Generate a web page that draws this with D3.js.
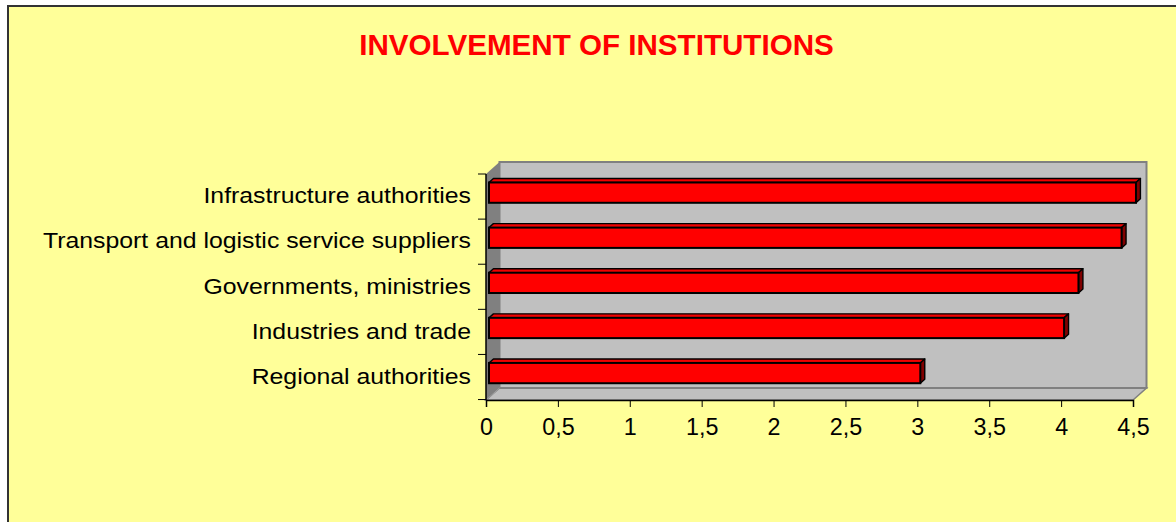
<!DOCTYPE html>
<html>
<head>
<meta charset="utf-8">
<script src="https://cdn.jsdelivr.net/npm/d3@7"></script>
<style>
  html, body { margin: 0; padding: 0; background: #ffffff; }
  svg { display: block; }
</style>
</head>
<body>
<svg id="chart" width="1176" height="522"></svg>
<script>
// data, top bar first
var categories = ['Infrastructure authorities', 'Transport and logistic service suppliers',
                  'Governments, ministries', 'Industries and trade', 'Regional authorities'];
var values = [4.5, 4.4, 4.1, 4.0, 3.0];
var xTicks = [0, 0.5, 1, 1.5, 2, 2.5, 3, 3.5, 4, 4.5];
var title = 'INVOLVEMENT OF INSTITUTIONS';

var W = 1176, H = 522;
var depth = {x: 13.5, y: -12}; // 3d wall offset
var barFront = 0.22, barBack = 0.55; // bar position inside the depth
var barShift = -1.5;

var svg = d3.select('#chart');

// chart area background + border (only top and left visible)
svg.append('rect')
    .attr('x', 8).attr('y', 6)
    .attr('width', W + 20).attr('height', H + 20)
    .attr('fill', '#ffff99')
    .attr('stroke', '#333333')
    .attr('stroke-width', 2);

svg.append('text')
    .attr('x', 596.5).attr('y', 55)
    .attr('text-anchor', 'middle')
    .attr('font-family', 'Liberation Sans, Arial, sans-serif')
    .attr('font-weight', 'bold')
    .attr('font-size', 29.6)
    .attr('fill', '#ff0000')
    .text(title);

var x = d3.scaleLinear().domain([0, 4.5]).range([486, 1133]);
var y = d3.scaleBand().domain(categories).range([174, 400]).paddingInner(0.55).paddingOuter(0.28);
var y0 = 174, y1 = 400;

// walls
var g = svg.append('g');
g.append('polygon') // left wall
    .attr('points', [[x(0), y0], [x(0) + depth.x, y0 + depth.y], [x(0) + depth.x, y1 + depth.y], [x(0), y1]].join(' '))
    .attr('fill', '#808080');
g.append('polygon') // floor
    .attr('points', [[x(0), y1], [x(4.5), y1], [x(4.5) + depth.x, y1 + depth.y], [x(0) + depth.x, y1 + depth.y]].join(' '))
    .attr('fill', '#c0c0c0')
    .attr('stroke', '#808080')
    .attr('stroke-width', 1.5);
g.append('rect') // back wall
    .attr('x', x(0) + depth.x).attr('y', y0 + depth.y)
    .attr('width', x(4.5) - x(0)).attr('height', y1 - y0)
    .attr('fill', '#c0c0c0')
    .attr('stroke', '#808080')
    .attr('stroke-width', 2);
g.append('line') // floor/left wall edge
    .attr('x1', x(0)).attr('y1', y1)
    .attr('x2', x(0) + depth.x).attr('y2', y1 + depth.y)
    .attr('stroke', '#a0a0a0').attr('stroke-width', 1);

// bars
var fx = depth.x * barFront, fy = depth.y * barFront + barShift;
var dx = depth.x * (barBack - barFront), dy = depth.y * (barBack - barFront);
var bars = svg.append('g').selectAll('g.bar')
    .data(categories.map(function(c, i){ return {cat: c, v: values[i]}; }))
    .enter().append('g').attr('class', 'bar');

bars.append('polygon') // top face
    .attr('points', function(d){
        var t = y(d.cat) + fy, l = x(0) + fx, r = x(d.v) + fx;
        return [[l, t], [r, t], [r + dx, t + dy], [l + dx, t + dy]].join(' ');
    })
    .attr('fill', '#f00000').attr('stroke', '#000').attr('stroke-width', 1.4).attr('stroke-linejoin', 'round');
bars.append('polygon') // side face
    .attr('points', function(d){
        var t = y(d.cat) + fy, b = t + y.bandwidth(), r = x(d.v) + fx;
        return [[r, t], [r + dx, t + dy], [r + dx, b + dy], [r, b]].join(' ');
    })
    .attr('fill', '#800000').attr('stroke', '#000').attr('stroke-width', 1.4).attr('stroke-linejoin', 'round');
bars.append('rect') // front face
    .attr('x', x(0) + fx)
    .attr('y', function(d){ return y(d.cat) + fy; })
    .attr('width', function(d){ return x(d.v) - x(0); })
    .attr('height', y.bandwidth())
    .attr('fill', '#ff0000').attr('stroke', '#000').attr('stroke-width', 2);

// x axis
var fmt = function(d){ return String(d).replace('.', ','); };
var xAxis = svg.append('g')
    .attr('transform', 'translate(0,' + y1 + ')')
    .call(d3.axisBottom(x).tickValues(xTicks).tickFormat(fmt).tickSize(7).tickPadding(11));
xAxis.select('.domain').attr('stroke', '#000').attr('stroke-width', 1.5);
xAxis.selectAll('.tick line').attr('stroke', '#000');
xAxis.selectAll('text')
    .attr('font-family', 'Liberation Sans, Arial, sans-serif')
    .attr('font-size', 23.3)
    .attr('fill', '#000');

// y axis
var yAxis = svg.append('g');
yAxis.append('line')
    .attr('x1', x(0)).attr('x2', x(0)).attr('y1', y0).attr('y2', y1)
    .attr('stroke', '#000').attr('stroke-width', 1.5);
var step = y.step();
yAxis.selectAll('line.tk')
    .data(d3.range(categories.length + 1))
    .enter().append('line').attr('class', 'tk')
    .attr('x1', x(0) - 8).attr('x2', x(0))
    .attr('y1', function(i){ return y0 + i * step; })
    .attr('y2', function(i){ return y0 + i * step; })
    .attr('stroke', '#000').attr('stroke-width', 1);
yAxis.selectAll('text')
    .data(categories)
    .enter().append('text')
    .attr('x', 471)
    .attr('y', function(d){ return y(d) + y.bandwidth() / 2 + 6.5; })
    .attr('text-anchor', 'end')
    .attr('font-family', 'Liberation Sans, Arial, sans-serif')
    .attr('font-size', 21.4)
    .attr('fill', '#000')
    .text(function(d){ return d; })
    .each(function(){
        // labels in the picture are a bit wider than the font height says
        var w = this.getComputedTextLength();
        d3.select(this).attr('textLength', w * 1.16).attr('lengthAdjust', 'spacingAndGlyphs');
    });
</script>
</body>
</html>
